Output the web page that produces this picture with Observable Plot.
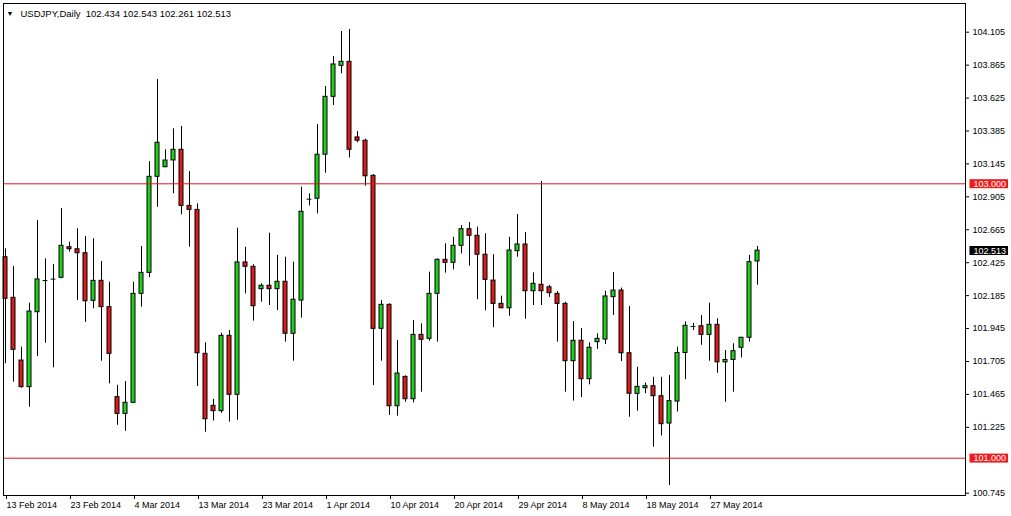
<!DOCTYPE html>
<html>
<head>
<meta charset="utf-8">
<script src="https://cdn.jsdelivr.net/npm/d3@7"></script>
<script src="https://cdn.jsdelivr.net/npm/@observablehq/plot@0.6"></script>
<style>
  html, body { margin: 0; padding: 0; background: #ffffff; }
  #chart svg { display: block; }
</style>
</head>
<body>
<div id="chart"></div>
<script>
// ---- data (USDJPY daily, MT4) ----
const symbol = "USDJPY,Daily";
const dates = [
  "2014-02-13","2014-02-14","2014-02-16","2014-02-17","2014-02-18","2014-02-19","2014-02-20","2014-02-21",
  "2014-02-23","2014-02-24","2014-02-25","2014-02-26","2014-02-27","2014-02-28",
  "2014-03-02","2014-03-03","2014-03-04","2014-03-05","2014-03-06","2014-03-07",
  "2014-03-09","2014-03-10","2014-03-11","2014-03-12","2014-03-13","2014-03-14",
  "2014-03-16","2014-03-17","2014-03-18","2014-03-19","2014-03-20","2014-03-21",
  "2014-03-23","2014-03-24","2014-03-25","2014-03-26","2014-03-27","2014-03-28",
  "2014-03-30","2014-03-31","2014-04-01","2014-04-02","2014-04-03","2014-04-04",
  "2014-04-06","2014-04-07","2014-04-08","2014-04-09","2014-04-10","2014-04-11",
  "2014-04-13","2014-04-14","2014-04-15","2014-04-16","2014-04-17","2014-04-18",
  "2014-04-20","2014-04-21","2014-04-22","2014-04-23","2014-04-24","2014-04-25",
  "2014-04-27","2014-04-28","2014-04-29","2014-04-30","2014-05-01","2014-05-02",
  "2014-05-04","2014-05-05","2014-05-06","2014-05-07","2014-05-08","2014-05-09",
  "2014-05-11","2014-05-12","2014-05-13","2014-05-14","2014-05-15","2014-05-16",
  "2014-05-18","2014-05-19","2014-05-20","2014-05-21","2014-05-22","2014-05-23",
  "2014-05-25","2014-05-26","2014-05-27","2014-05-28","2014-05-29","2014-05-30",
  "2014-06-01","2014-06-02","2014-06-03"
];
const opens = [
  102.465,102.169,101.712,101.518,102.064,102.295,102.305,102.315,
  102.538,102.523,102.494,102.147,102.293,102.101,
  101.445,101.323,101.404,102.198,102.351,103.051,
  103.121,103.170,103.248,102.839,102.810,101.761,
  101.382,101.343,101.892,101.462,102.427,102.395,
  102.232,102.257,102.232,102.286,101.907,102.149,
  102.888,102.891,103.212,103.634,103.860,103.889,
  103.338,103.314,103.058,101.943,102.118,101.379,
  101.593,101.430,101.899,101.870,102.198,102.446,
  102.424,102.548,102.669,102.621,102.483,102.295,
  102.125,102.093,102.509,102.558,102.217,102.264,
  102.246,102.198,102.125,101.707,101.856,101.576,
  101.846,101.865,102.174,102.222,101.765,101.469,
  101.510,101.525,101.452,101.253,101.413,101.767,
  101.960,101.962,101.899,101.972,101.699,101.716,
  101.805,101.878,102.434
];
const highs = [
  102.526,102.397,101.809,102.130,102.733,102.453,102.412,102.820,
  102.575,102.672,102.616,102.599,102.434,102.283,
  101.531,101.559,102.283,102.543,103.162,103.760,
  103.248,103.401,103.418,103.089,102.854,101.841,
  101.429,101.911,101.931,102.677,102.538,102.410,
  102.271,102.640,102.478,102.465,102.429,102.975,
  102.927,103.432,103.709,103.928,104.110,104.125,
  103.381,103.325,103.068,102.149,102.125,101.858,
  101.600,102.004,101.979,102.356,102.453,102.563,
  102.611,102.696,102.718,102.684,102.636,102.483,
  102.181,102.611,102.776,102.645,102.351,103.017,
  102.260,102.215,102.137,101.996,101.945,101.841,
  101.907,102.217,102.353,102.240,102.106,101.663,
  101.548,101.590,101.590,101.603,101.809,101.994,
  101.984,102.040,102.130,102.016,101.785,101.834,
  101.878,102.478,102.543
];
const lows = [
  101.688,101.554,101.510,101.372,101.741,101.838,101.659,102.308,
  102.502,102.149,101.990,102.089,101.707,101.542,
  101.240,101.196,101.398,102.101,102.315,102.829,
  103.117,102.927,102.774,102.538,101.523,101.189,
  101.271,101.328,101.263,101.277,102.198,101.999,
  102.137,102.113,102.076,101.846,101.707,102.021,
  102.839,102.781,103.077,103.571,103.802,103.189,
  103.299,102.983,101.530,101.707,101.311,101.306,
  101.408,101.403,101.481,101.853,101.846,102.349,
  102.373,102.490,102.400,102.155,102.074,101.951,
  102.089,102.035,102.465,102.013,102.113,102.113,
  102.173,101.846,101.481,101.416,101.442,101.535,
  101.793,101.829,102.040,101.705,101.299,101.342,
  101.470,101.080,101.162,100.801,101.337,101.572,
  101.931,101.823,101.707,101.619,101.408,101.481,
  101.731,101.846,102.261
];
const closes = [
  102.162,101.790,101.518,102.069,102.303,102.295,102.305,102.548,
  102.523,102.494,102.144,102.293,102.101,101.761,
  101.323,101.404,102.198,102.351,103.051,103.299,
  103.170,103.248,102.839,102.810,101.765,101.284,
  101.343,101.892,101.462,102.427,102.395,102.108,
  102.257,102.232,102.286,101.907,102.155,102.796,
  102.888,103.212,103.634,103.870,103.889,103.248,
  103.314,103.055,101.943,102.118,101.379,101.617,
  101.430,101.899,101.863,102.198,102.446,102.424,
  102.548,102.669,102.621,102.483,102.300,102.125,
  102.093,102.514,102.558,102.217,102.271,102.217,
  102.203,102.125,101.707,101.856,101.576,101.805,
  101.870,102.179,102.222,101.765,101.470,101.520,
  101.525,101.452,101.248,101.416,101.767,101.965,
  101.960,101.899,101.972,101.699,101.716,101.780,
  101.878,102.429,102.513
];
const lastQuote = {open: 102.434, high: 102.543, low: 102.261, close: 102.513};
const levels = [103.000, 101.000];
const xTickIndex = [0, 8, 16, 24, 32, 40, 48, 56, 64, 72, 80, 88];
const xTickLabels = ["13 Feb 2014","23 Feb 2014","4 Mar 2014","13 Mar 2014","23 Mar 2014","1 Apr 2014",
  "10 Apr 2014","20 Apr 2014","29 Apr 2014","8 May 2014","18 May 2014","27 May 2014"];
const yTickLabels = ["104.105","103.865","103.625","103.385","103.145","102.905","102.665","102.425",
  "102.185","101.945","101.705","101.465","101.225","100.745"];

// ---- build ----
const rows = dates.map((d, i) => ({i, date: d, open: opens[i], high: highs[i], low: lows[i], close: closes[i]}));
const bodies = rows.filter(d => d.open !== d.close);
const dojis = rows.filter(d => d.open === d.close);
const yTicks = yTickLabels.map(Number);
const UP = "#1fd01f", DOWN = "#dc1a1a", LEVEL = "#e01414";
const FONT = "'Liberation Sans', Arial, Helvetica, sans-serif";
const title = `${symbol}\u00a0\u00a0${lastQuote.open.toFixed(3)} ${lastQuote.high.toFixed(3)} ${lastQuote.low.toFixed(3)} ${lastQuote.close.toFixed(3)}`;

const chart = Plot.plot({
  width: 1011,
  height: 516,
  marginLeft: 3,
  marginTop: 3,
  marginRight: 46,
  marginBottom: 21,
  style: {fontFamily: FONT, fontSize: "9px", background: "#ffffff", color: "#000000"},
  x: {type: "linear", domain: [0, 94], range: [5, 757], label: null},
  y: {type: "linear", domain: [100.745, 104.105], range: [492.7, 31.7], label: null},
  marks: [
    Plot.ruleX(rows, {x: "i", y1: "low", y2: "high", stroke: "#000000", strokeWidth: 1}),
    Plot.rect(bodies, {
      x1: d => d.i - 0.25, x2: d => d.i + 0.25, y1: "open", y2: "close",
      fill: d => d.close > d.open ? UP : DOWN, stroke: "#000000", strokeWidth: 1
    }),
    Plot.ruleY(dojis, {y: "open", x1: d => d.i - 0.3, x2: d => d.i + 0.3, stroke: "#000000"}),
    Plot.ruleY(levels, {stroke: LEVEL, strokeWidth: 1}),
    Plot.frame({stroke: "#000000"}),
    Plot.axisX(xTickIndex, {
      anchor: "bottom", tickSize: 4, tickPadding: 2, textAnchor: "start", dx: 1,
      tickFormat: d => xTickLabels[xTickIndex.indexOf(d)], fontSize: 9, label: null
    }),
    Plot.axisY(yTicks, {
      anchor: "right", tickSize: 3, tickPadding: 4, textAnchor: "start",
      tickFormat: d => yTickLabels[yTicks.indexOf(d)], fontSize: 9, label: null
    }),
    Plot.text(levels, {
      y: d => d, text: d => d.toFixed(3), frameAnchor: "right", dx: 8,
      textAnchor: "start", fill: "#ffffff", fontSize: 9, className: "tag-red"
    }),
    Plot.text([lastQuote], {
      y: "close", text: d => d.close.toFixed(3), frameAnchor: "right", dx: 8,
      textAnchor: "start", fill: "#ffffff", fontSize: 9, className: "tag-black"
    }),
    Plot.text(["\u25BC"], {frameAnchor: "top-left", dx: 6.5, dy: 10.5, textAnchor: "middle", lineAnchor: "middle", fontSize: 7, fill: "#000000"}),
    Plot.text([title], {frameAnchor: "top-left", dx: 17, dy: 13.5, textAnchor: "start", lineAnchor: "bottom", fontSize: 9.5, fill: "#000000"})
  ]
});

document.getElementById("chart").appendChild(chart);

// price-tag backgrounds behind the label texts
for (const [cls, color] of [["tag-red", "#ee1c1c"], ["tag-black", "#000000"]]) {
  d3.select(chart).selectAll(`g.${cls} text`).each(function() {
    const b = this.getBBox();
    d3.select(this.parentNode).insert("rect", () => this)
      .attr("transform", this.getAttribute("transform"))
      .attr("x", b.x - 4).attr("y", b.y + 0.5)
      .attr("width", b.width + 6).attr("height", b.height - 1)
      .attr("fill", color);
  });
}
</script>
</body>
</html>
